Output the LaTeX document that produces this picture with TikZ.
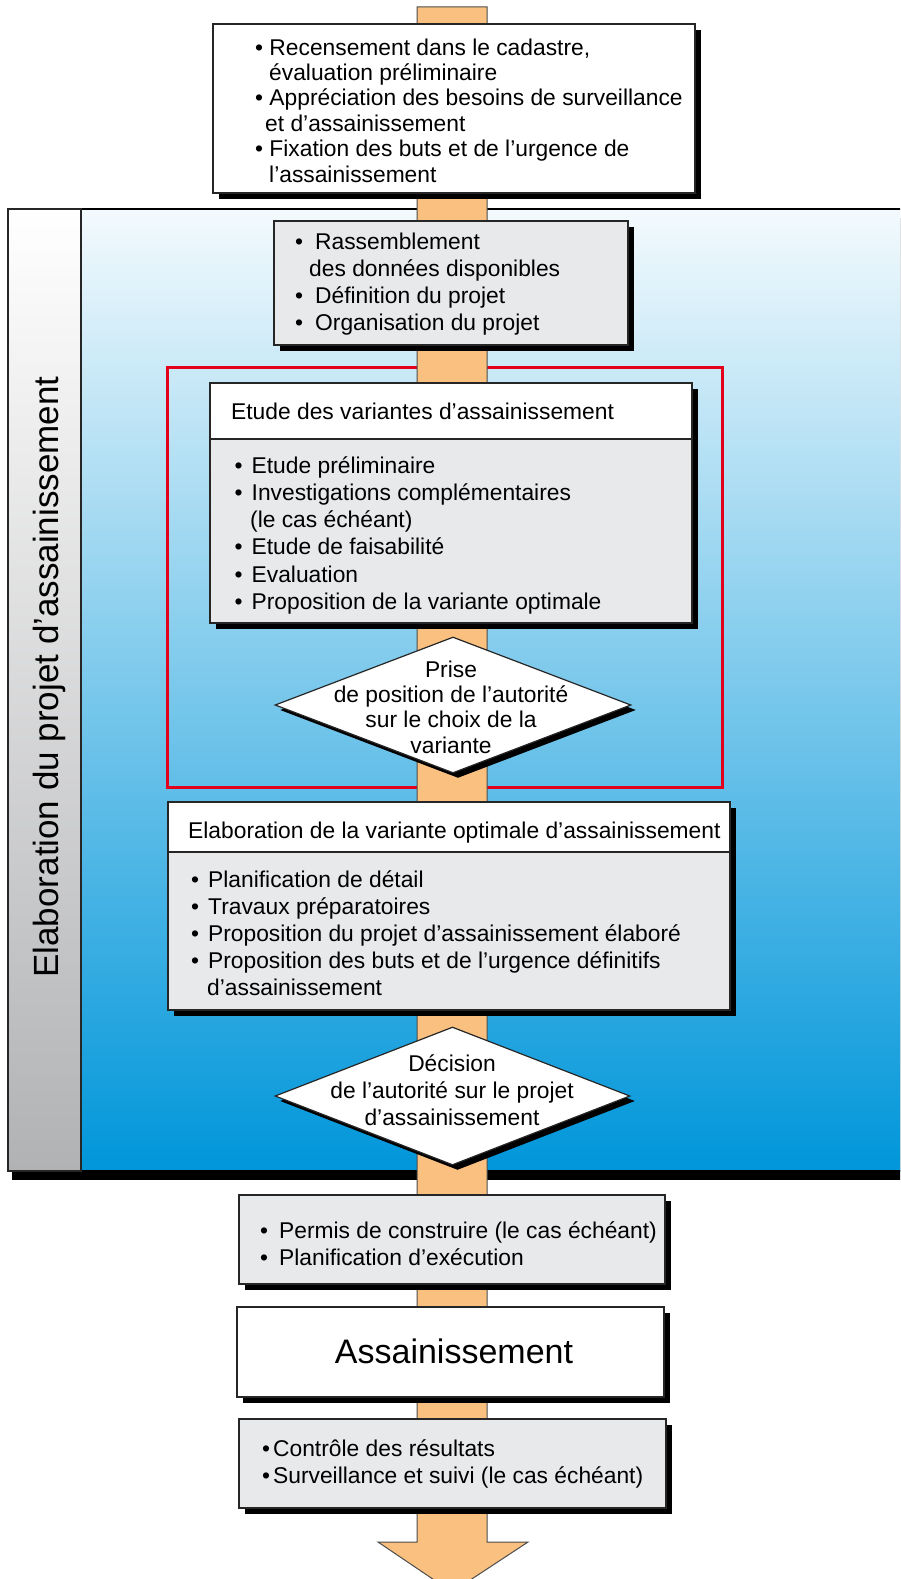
\documentclass[tikz,border=0pt]{standalone}
\usepackage{fontspec}
\setmainfont{Liberation Sans}
\usetikzlibrary{shapes.geometric,shadows}

\definecolor{stemfill}{HTML}{F9C07F}
\definecolor{boxgrey}{HTML}{E8E9EB}
\definecolor{redframe}{HTML}{E3001B}
\definecolor{skytop}{HTML}{F3FAFD}
\definecolor{skybottom}{HTML}{0096DA}
\definecolor{bargrey}{HTML}{B1B2B4}
\newcommand{\bul}{\textbullet\ }
\newcommand{\ind}{\hspace*{14pt}}

\begin{document}
\begin{tikzpicture}[x=1pt,y=-1pt,
  shadowed/.style={drop shadow={shadow xshift=6pt,shadow yshift=-6pt,fill=black,opacity=1}},
  head/.style={draw=black!85,line width=1.2pt,fill=white,inner sep=0pt},
  box/.style={head,shadowed},
  greybox/.style={box,fill=boxgrey},
  decision/.style={diamond,draw=black!85,line width=1.2pt,fill=white,inner sep=0pt,
    drop shadow={shadow xshift=5pt,shadow yshift=-5pt,fill=black,opacity=1}},
  txt/.style={inner sep=0pt,align=left,anchor=base west,font=\fontsize{22.8}{27}\selectfont},
  dtext/.style={inner sep=0pt,align=center,anchor=base,font=\fontsize{22.8}{26}\selectfont}]
\useasboundingbox (0,0) rectangle (900,1579);
\clip (0,0) rectangle (900,1579);

% project elaboration panel
\path[draw=black,line width=2.5pt,top color=skytop,bottom color=skybottom,
  drop shadow={shadow xshift=4pt,shadow yshift=-9pt,fill=black,opacity=1}]
  (8,209) rectangle (912,1171);
\path[draw=black!85,line width=1.2pt,top color=white,bottom color=bargrey] (8,209) rectangle (81,1171);
\node[rotate=90,anchor=base,inner sep=0pt,font=\fontsize{35}{40}\selectfont] (SIDE) at (58,677)
  {Elaboration du projet d’assainissement};
\draw[redframe,line width=3pt] (167,367) rectangle (722,787);

% main flow (text nodes sit on the baseline of their last line)
\draw[draw=black!70,line width=1pt,fill=stemfill]
  (417,7) -- (487,7) -- (487,1542) -- (528,1542) -- (452,1592) -- (378,1542) -- (417,1542) -- cycle;

\node[box,minimum width=482pt,minimum height=169pt] (RECENS) at (454,108.5) {};
\node[txt,font=\fontsize{22.8}{25.4}\selectfont] (RECENST) at (255,182)
  {\bul Recensement dans le cadastre,\\
   \ind évaluation préliminaire\\
   \bul Appréciation des besoins de surveillance\\
   \hspace*{10pt}et d’assainissement\\
   \bul Fixation des buts et de l’urgence de\\
   \ind l’assainissement};

\node[greybox,minimum width=354pt,minimum height=124pt] (DONNEES) at (451,283) {};
\node[txt,font=\fontsize{22.8}{26.7}\selectfont] (DONNEEST) at (295,330)
  {\textbullet\hspace{12pt}Rassemblement\\
   \ind des données disponibles\\
   \textbullet\hspace{12pt}Définition du projet\\
   \textbullet\hspace{12pt}Organisation du projet};

\node[greybox,minimum width=482pt,minimum height=240pt] (ETUDE) at (451,503) {};
\node[head,anchor=north,minimum width=482pt,minimum height=56pt] (ETUDEH) at (ETUDE.north) {};
\node[txt] (ETUDEHT) at (231,419) {Etude des variantes d’assainissement};
\node[txt,font=\fontsize{22.8}{27.3}\selectfont] (ETUDET) at (234.5,609.5)
  {\textbullet\hspace{9pt}Etude préliminaire\\
   \textbullet\hspace{9pt}Investigations complémentaires\\
   \hspace*{15.5pt}(le cas échéant)\\
   \textbullet\hspace{9pt}Etude de faisabilité\\
   \textbullet\hspace{9pt}Evaluation\\
   \textbullet\hspace{9pt}Proposition de la variante optimale};

\node[decision,minimum width=356pt,minimum height=136pt] (PRISE) at (453,705) {};
\node[dtext,font=\fontsize{22.8}{25.3}\selectfont] (PRISET) at (451,753)
  {Prise\\de position de l’autorité\\sur le choix de la\\variante};

\node[greybox,minimum width=562pt,minimum height=208pt] (ELABO) at (449,906) {};
\node[head,anchor=north,minimum width=562pt,minimum height=50pt] (ELABOH) at (ELABO.north) {};
\node[txt] (ELABOHT) at (188,838) {Elaboration de la variante optimale d’assainissement};
\node[txt] (ELABOT) at (191,995)
  {\textbullet\hspace{9pt}Planification de détail\\
   \textbullet\hspace{9pt}Travaux préparatoires\\
   \textbullet\hspace{9pt}Proposition du projet d’assainissement élaboré\\
   \textbullet\hspace{9pt}Proposition des buts et de l’urgence définitifs\\
   \hspace*{16pt}d’assainissement};

\node[decision,minimum width=355pt,minimum height=138pt] (DECIS) at (452.5,1096) {};
\node[dtext,font=\fontsize{22.8}{27}\selectfont] (DECIST) at (452,1125)
  {Décision\\de l’autorité sur le projet\\d’assainissement};

\node[greybox,minimum width=426pt,minimum height=89pt] (PERMIS) at (452,1239.5) {};
\node[txt] (PERMIST) at (260,1265)
  {\textbullet\hspace{11pt}Permis de construire (le cas échéant)\\
   \textbullet\hspace{11pt}Planification d’exécution};

\node[box,minimum width=427pt,minimum height=90pt] (ASSAIN) at (450.5,1352) {};
\node[inner sep=0pt,anchor=base,font=\fontsize{34}{40}\selectfont] (ASSAINT) at (454,1363) {Assainissement};

\node[greybox,minimum width=427pt,minimum height=89pt] (CONTROLE) at (452.5,1463.5) {};
\node[txt] (CONTROLET) at (262,1483)
  {\textbullet\hspace{3pt}Contrôle des résultats\\
   \textbullet\hspace{3pt}Surveillance et suivi (le cas échéant)};
\end{tikzpicture}
\end{document}
